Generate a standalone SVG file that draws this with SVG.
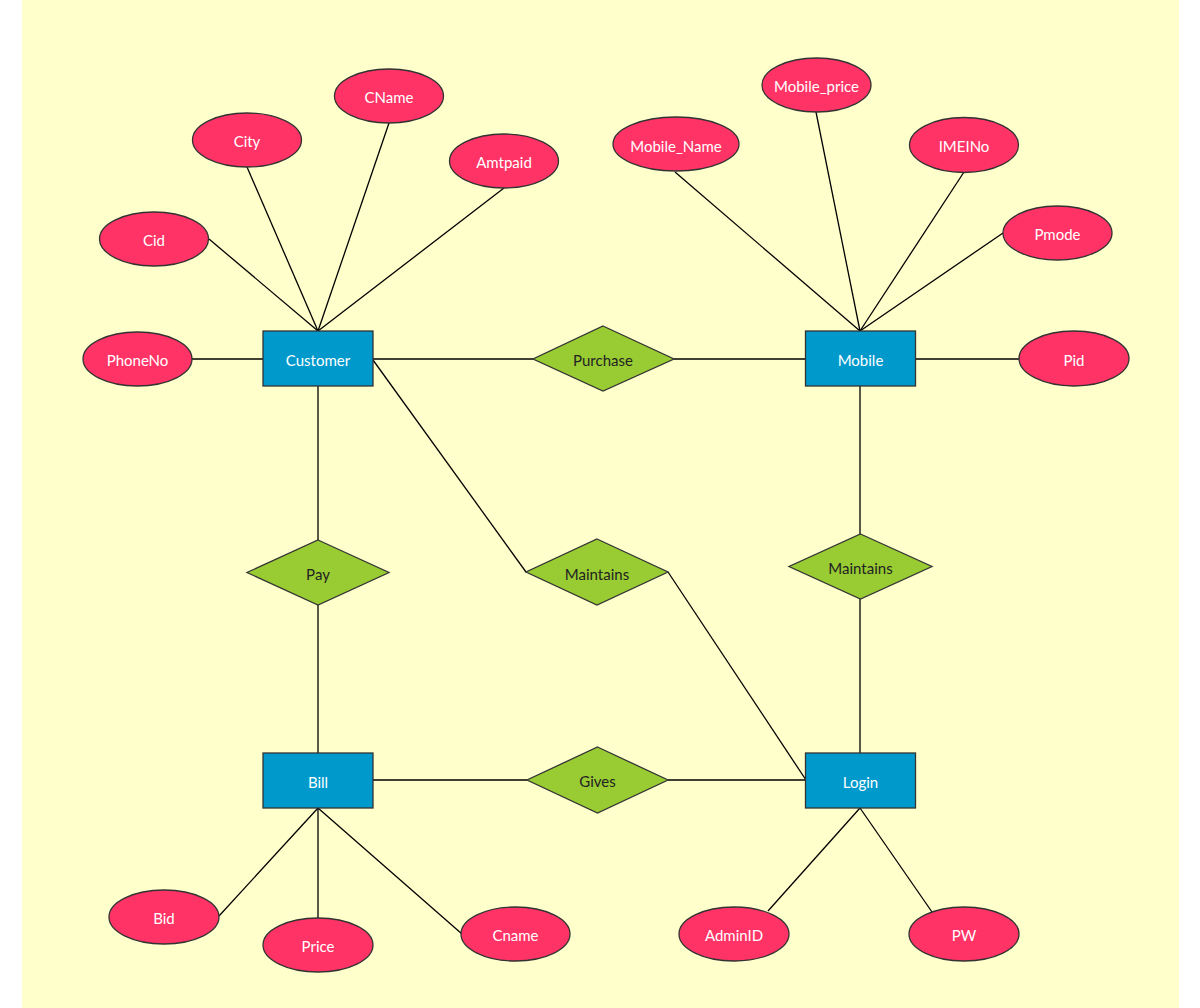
<svg xmlns="http://www.w3.org/2000/svg" width="1200" height="1008" viewBox="0 0 1200 1008">
<style>
.attr{fill:#FF3366;stroke:#333;stroke-width:1.3}
.ent{fill:#0099CC;stroke:#333;stroke-width:1.3}
.rel{fill:#99CC33;stroke:#333;stroke-width:1.3}
.lt{fill:#fff;font-family:Lato,"Liberation Sans",sans-serif;font-size:15px;text-anchor:middle;dominant-baseline:central}
.dt{fill:#222;font-family:Lato,"Liberation Sans",sans-serif;font-size:15px;text-anchor:middle;dominant-baseline:central}
#connectors line{stroke:#000;stroke-width:1.3}
</style>
<rect x="0" y="0" width="1200" height="1008" fill="#fff"/>
<rect x="22" y="0" width="1157" height="1008" fill="#FFFFCC"/>
<g id="connectors">
<line x1="209" y1="239" x2="318" y2="331"/>
<line x1="247" y1="167" x2="318" y2="331"/>
<line x1="389" y1="123" x2="318" y2="331"/>
<line x1="504" y1="188" x2="318" y2="331"/>
<line x1="192" y1="359" x2="263" y2="359"/>
<line x1="373" y1="359" x2="533" y2="359"/>
<line x1="674" y1="359" x2="806" y2="359"/>
<line x1="675" y1="172" x2="860" y2="331"/>
<line x1="816" y1="112" x2="860" y2="331"/>
<line x1="964" y1="172" x2="860" y2="331"/>
<line x1="1003" y1="233" x2="860" y2="331"/>
<line x1="915" y1="359" x2="1019" y2="359"/>
<line x1="860" y1="386" x2="860" y2="534"/>
<line x1="860" y1="599" x2="860" y2="753"/>
<line x1="318" y1="386" x2="318" y2="540"/>
<line x1="318" y1="605" x2="318" y2="753"/>
<line x1="373" y1="360" x2="526" y2="572"/>
<line x1="668" y1="572" x2="806" y2="780"/>
<line x1="373" y1="780" x2="527" y2="780"/>
<line x1="668" y1="780" x2="806" y2="780"/>
<line x1="318" y1="808" x2="219" y2="916"/>
<line x1="318" y1="808" x2="318" y2="918"/>
<line x1="318" y1="808" x2="462" y2="934"/>
<line x1="860" y1="808" x2="768" y2="911"/>
<line x1="860" y1="808" x2="932" y2="912"/>
</g>
<g id="Cid"><ellipse class="attr" cx="154" cy="239" rx="54.5" ry="27"/><text class="lt" x="154" y="240">Cid</text></g>
<g id="City"><ellipse class="attr" cx="247" cy="140" rx="54.5" ry="27"/><text class="lt" x="247" y="141">City</text></g>
<g id="CName"><ellipse class="attr" cx="389" cy="96" rx="54.5" ry="27"/><text class="lt" x="389" y="97">CName</text></g>
<g id="Amtpaid"><ellipse class="attr" cx="504" cy="161" rx="54.5" ry="27"/><text class="lt" x="504" y="162">Amtpaid</text></g>
<g id="PhoneNo"><ellipse class="attr" cx="137.5" cy="359" rx="54.5" ry="27"/><text class="lt" x="137.5" y="360">PhoneNo</text></g>
<g id="Mobile_Name"><ellipse class="attr" cx="676" cy="144" rx="63" ry="27"/><text class="lt" x="676" y="146">Mobile_Name</text></g>
<g id="Mobile_price"><ellipse class="attr" cx="816.5" cy="85" rx="54.5" ry="27"/><text class="lt" x="816.5" y="86">Mobile_price</text></g>
<g id="IMEINo"><ellipse class="attr" cx="964" cy="145" rx="54.5" ry="27.5"/><text class="lt" x="964" y="146">IMEINo</text></g>
<g id="Pmode"><ellipse class="attr" cx="1057.5" cy="233" rx="54.5" ry="27"/><text class="lt" x="1057.5" y="234">Pmode</text></g>
<g id="Pid"><ellipse class="attr" cx="1074" cy="358.5" rx="55" ry="27.5"/><text class="lt" x="1074" y="360">Pid</text></g>
<g id="Bid"><ellipse class="attr" cx="164" cy="917" rx="55" ry="27"/><text class="lt" x="164" y="918">Bid</text></g>
<g id="Price"><ellipse class="attr" cx="318" cy="945" rx="55" ry="27"/><text class="lt" x="318" y="946">Price</text></g>
<g id="Cname"><ellipse class="attr" cx="515.5" cy="934" rx="54.5" ry="27"/><text class="lt" x="515.5" y="935">Cname</text></g>
<g id="AdminID"><ellipse class="attr" cx="734" cy="934" rx="55" ry="27"/><text class="lt" x="734" y="935">AdminID</text></g>
<g id="PW"><ellipse class="attr" cx="964" cy="934" rx="55" ry="27"/><text class="lt" x="964" y="935">PW</text></g>
<g id="Customer"><rect class="ent" x="263" y="331" width="110" height="55"/><text class="lt" x="318" y="360">Customer</text></g>
<g id="Mobile"><rect class="ent" x="805.5" y="331" width="110" height="55"/><text class="lt" x="860.5" y="360">Mobile</text></g>
<g id="Bill"><rect class="ent" x="263" y="753" width="110" height="55"/><text class="lt" x="318" y="782">Bill</text></g>
<g id="Login"><rect class="ent" x="805.5" y="753" width="110" height="55"/><text class="lt" x="860.5" y="782">Login</text></g>
<g id="Purchase"><polygon class="rel" points="603,326 674,359 603,391 533,359"/><text class="dt" x="603" y="360">Purchase</text></g>
<g id="Pay"><polygon class="rel" points="318,540 389,572.5 318,605 247,572.5"/><text class="dt" x="318" y="574">Pay</text></g>
<g id="Maintains1"><polygon class="rel" points="597,539 668,572 597,605 526,572"/><text class="dt" x="597" y="574">Maintains</text></g>
<g id="Maintains2"><polygon class="rel" points="860.5,534 932,566.5 860.5,599 789,566.5"/><text class="dt" x="860.5" y="568">Maintains</text></g>
<g id="Gives"><polygon class="rel" points="597.5,747 668,780 597.5,813 527,780"/><text class="dt" x="597.5" y="781">Gives</text></g>
</svg>
